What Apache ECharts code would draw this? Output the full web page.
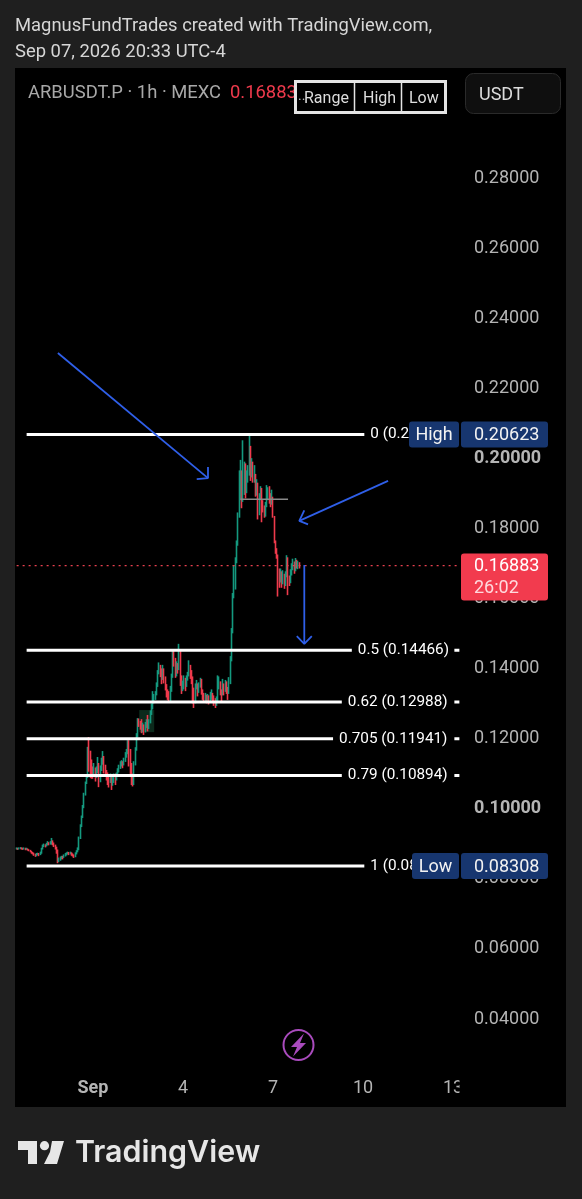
<!DOCTYPE html>
<html><head><meta charset="utf-8">
<style>html,body{margin:0;padding:0;background:#1f1f1f}#c{width:582px;height:1199px}</style>
<script src="https://cdn.jsdelivr.net/npm/echarts@6/dist/echarts.min.js"></script>
</head><body><div id="c"></div>
<script>
const closes = [
.0881,.0880,.0881,.0882,.0881,.0880,.0881,.0879,.0880,.0878,
.0876,.0873,.0870,.0868,.0864,.0861,.0864,.0866,.0863,.0868,
.0880,.0888,.0891,.0888,.0892,.0896,.0894,.0897,.0900,.0897,
.0892,.0885,.0875,.0845,.0848,.0852,.0856,.0855,.0860,.0864,
.0866,.0868,.0867,.0869,.0864,.0862,.0858,.0866,.0872,.0878,
.0910,.0945,.0970,.0998,.1035,.1068,.1085,.1150,.1130,.1115,
.1110,.1098,.1112,.1090,.1100,.1115,.1075,.1105,.1125,.1140,
.1120,.1100,.1095,.1080,.1070,.1085,.1065,.1075,.1085,.1080,
.1090,.1100,.1110,.1120,.1125,.1120,.1130,.1145,.1150,.1165,
.1160,.1120,.1090,.1065,.1120,.1160,.1200,.1245,.1240,.1232,
.1220,.1225,.1215,.1230,.1240,.1225,.1240,.1265,.1280,.1300,
.1310,.1320,.1345,.1380,.1400,.1385,.1365,.1395,.1370,.1350,
.1330,.1320,.1305,.1330,.1370,.1440,.1420,.1380,.1400,.1395,
.1440,.1370,.1335,.1350,.1365,.1345,.1365,.1375,.1400,.1385,
.1370,.1330,.1300,.1340,.1350,.1330,.1345,.1360,.1330,.1315,
.1310,.1315,.1305,.1310,.1300,.1315,.1320,.1310,.1300,.1295,
.1305,.1340,.1350,.1330,.1320,.1345,.1330,.1350,.1335,.1325,
.1360,.1420,.1500,.1600,.1680,.1700,.1750,.1830,.1900,.1930,
.1880,.1930,.1970,.1900,.1930,.1950,.1990,.1950,.1980,.1940,
.1940,.1900,.1920,.1835,.1880,.1905,.1870,.1850,.1830,.1860,
.1880,.1900,.1885,.1870,.1880,.1830,.1760,.1735,.1715,.1660,
.1645,.1665,.1640,.1660,.1635,.1660,.1710,.1650,.1640,.1665,
.1680,.1695,.1680,.1700,.1685,.1695,.16883];
const highs = [
.0884,.0883,.0884,.0885,.0884,.0883,.0884,.0883,.0883,.0881,
.0879,.0877,.0874,.0871,.0869,.0866,.0868,.0869,.0868,.0872,
.0883,.0892,.0895,.0893,.0897,.0902,.0899,.0902,.0911,.0904,
.0898,.0892,.0886,.0878,.0855,.0858,.0860,.0860,.0864,.0868,
.0870,.0872,.0871,.0872,.0870,.0867,.0864,.0870,.0876,.0884,
.0915,.0950,.0975,.1005,.1040,.1072,.1092,.1171,.1199,.1160,
.1135,.1115,.1125,.1110,.1115,.1142,.1125,.1118,.1140,.1159,
.1145,.1115,.1105,.1098,.1090,.1095,.1078,.1085,.1095,.1095,
.1098,.1110,.1120,.1130,.1133,.1130,.1140,.1156,.1165,.1190,
.1190,.1165,.1125,.1095,.1130,.1170,.1210,.1253,.1252,.1245,
.1250,.1240,.1235,.1242,.1250,.1262,.1250,.1275,.1295,.1330,
.1322,.1330,.1355,.1390,.1412,.1405,.1395,.1405,.1395,.1372,
.1345,.1335,.1330,.1345,.1380,.1447,.1445,.1425,.1415,.1410,
.1465,.1445,.1375,.1360,.1375,.1368,.1375,.1385,.1418,.1405,
.1390,.1372,.1340,.1352,.1362,.1352,.1355,.1368,.1365,.1335,
.1325,.1325,.1320,.1322,.1318,.1328,.1335,.1325,.1318,.1310,
.1315,.1375,.1372,.1358,.1335,.1365,.1352,.1362,.1358,.1342,
.1370,.1430,.1510,.1610,.1690,.1712,.1760,.1840,.1960,.1990,
.1960,.2046,.1985,.1980,.1960,.1975,.2062,.2030,.1995,.1985,
.1975,.1950,.1935,.1925,.1895,.1915,.1910,.1875,.1860,.1870,
.1918,.1912,.1915,.1895,.1905,.1885,.1830,.1745,.1738,.1720,
.1680,.1680,.1672,.1675,.1665,.1672,.1718,.1712,.1660,.1678,
.1695,.1708,.1700,.1710,.1705,.1702,.1698];
const lows = [
.0878,.0877,.0878,.0879,.0878,.0877,.0878,.0876,.0877,.0875,
.0873,.0870,.0866,.0864,.0860,.0857,.0859,.0862,.0859,.0862,
.0866,.0878,.0885,.0884,.0887,.0890,.0890,.0892,.0892,.0890,
.0885,.0878,.0866,.0839,.0842,.0846,.0850,.0850,.0854,.0858,
.0861,.0864,.0862,.0864,.0860,.0858,.0854,.0856,.0864,.0870,
.0876,.0908,.0942,.0968,.0996,.1032,.1065,.1082,.1100,.1082,
.1080,.1080,.1092,.1072,.1082,.1096,.1056,.1070,.1102,.1120,
.1095,.1085,.1075,.1062,.1055,.1068,.1048,.1060,.1068,.1062,
.1075,.1088,.1098,.1108,.1115,.1110,.1118,.1128,.1140,.1150,
.1115,.1085,.1062,.1058,.1062,.1118,.1160,.1198,.1228,.1220,
.1210,.1212,.1205,.1212,.1225,.1215,.1222,.1238,.1262,.1278,
.1295,.1305,.1318,.1342,.1378,.1370,.1350,.1362,.1352,.1332,
.1312,.1305,.1299,.1302,.1328,.1368,.1400,.1368,.1372,.1380,
.1390,.1345,.1322,.1330,.1335,.1330,.1342,.1360,.1372,.1365,
.1350,.1295,.1282,.1295,.1335,.1315,.1325,.1340,.1320,.1305,
.1298,.1302,.1295,.1300,.1292,.1298,.1305,.1298,.1288,.1282,
.1288,.1300,.1335,.1318,.1300,.1318,.1318,.1328,.1322,.1305,
.1322,.1350,.1415,.1495,.1595,.1620,.1695,.1745,.1825,.1875,
.1852,.1870,.1890,.1880,.1895,.1925,.1945,.1930,.1940,.1925,
.1925,.1885,.1888,.1820,.1832,.1875,.1812,.1840,.1825,.1828,
.1855,.1875,.1865,.1855,.1862,.1825,.1752,.1722,.1708,.1600,
.1625,.1640,.1625,.1635,.1622,.1630,.1655,.1604,.1630,.1638,
.1660,.1675,.1665,.1672,.1680,.1678,.1680];
const firstOpen = .0881;
const slotCount = 355;
const xTickLabels = {61:'Sep',133:'4',205:'7',277:'10',349:'13'};
const yBoldTicks = ['0.20000','0.10000'];
const yHiddenTicks = ['0.30000'];
const fibLevels = ['0','0.5','0.62','0.705','0.79','1'];
const fibPrices = [.20623,.14466,.12988,.11941,.10894,.08308];
const fibEnds = [278,268,260,253,260,278];
const fibStart = 8;
const lastPrice = .16883;
const countdown = '26:02';
const highPrice = .20623, lowPrice = .08308;
const arrow1 = [[33,.2295],[153,.1938]], arrow1Head = [[153,.1970],[153,.1938],[144,.1935]];
const arrow2 = [[297,.1930],[226,.1816]], arrow2Head = [[230,.1846],[226,.1816],[233,.1806]];
const arrow3 = [[230,.1690],[230,.1465]], arrow3Head = [[224,.1487],[230,.1465],[236,.1487]];
const greyLine = [[179,.1878],[217,.1878]];

const BLUE='#2f5fe8', GREEN='#14997f', RED='#ee3a4c', NAVY='#17366f', TAG='#f23b4e';
const cats = Array.from({length:slotCount},(_,i)=>String(i));
const ohlc = closes.map((c,i)=>{const o=i?closes[i-1]:firstOpen;return [o,c,Math.min(lows[i],o,c),Math.max(highs[i],o,c)];});
const draw=(data,color,width,z,extra)=>Object.assign({type:'line',data,symbol:'none',silent:true,z:z||5,lineStyle:{color,width:width||1.5,cap:'butt'}},extra||{});

const tag=(text1,fill,x,w,h)=>(p,api)=>{
  const y=api.coord([0,api.value(1)])[1];
  const isVal=text1===null;
  return {type:'group',children:[
    {type:'rect',shape:{x,y:y-h/2,width:w,height:h,r:[3,3,3,3]},style:{fill}},
    {type:'text',style:{x:isVal?474:x+w/2,y:y+1,text:isVal?api.value(1).toFixed(5):text1,fill:'#f2f2f2',font:'18px Roboto',align:isVal?'left':'center',verticalAlign:'middle'}}
  ]};
};
const fixedX=461, tagW=87;
const series=[
 {type:'candlestick',data:ohlc,barWidth:1,z:3,silent:true,
  itemStyle:{color:GREEN,color0:RED,borderColor:GREEN,borderColor0:RED,borderWidth:1.6},
  markArea:{silent:true,itemStyle:{color:'#0c2a1c'},z:1,data:[[{xAxis:98,yAxis:.1276},{xAxis:110,yAxis:.1213}]]}}
];
fibLevels.forEach((lv,k)=>{
  series.push(draw([[fibStart,fibPrices[k]],[fibEnds[k],fibPrices[k]]],'#ffffff',3,6,{
    endLabel:{show:true,distance:6,color:'#ffffff',fontFamily:'Roboto',fontSize:15.3,formatter:()=>lv+' ('+fibPrices[k].toFixed(5)+')'}}));
  if(k>0&&k<5) series.push(draw([[350,fibPrices[k]],[354,fibPrices[k]]],'#ffffff',3,6));
});
series.push(draw(cats.map((c,i)=>[i,lastPrice]),RED,1,4,{lineStyle:{color:'#e8404f',width:1.2,type:[2,4]}}));
series.push(draw(greyLine,'#8a8a8a',1.5,7));
[arrow1,arrow1Head,arrow2,arrow2Head,arrow3,arrow3Head].forEach(a=>series.push(draw(a,BLUE,1.8,8)));
series.push({type:'custom',z:20,silent:true,data:[[0,highPrice]],renderItem:tag(null,NAVY,fixedX,tagW,26)});
series.push({type:'custom',z:20,silent:true,data:[[0,lowPrice]],renderItem:tag(null,NAVY,fixedX,tagW,26)});
series.push({type:'custom',z:20,silent:true,data:[[0,highPrice]],renderItem:tag('High',NAVY,409,50,26)});
series.push({type:'custom',z:20,silent:true,data:[[0,lowPrice]],renderItem:tag('Low',NAVY,412,47,26)});
series.push({type:'custom',z:20,silent:true,data:[[0,lastPrice]],renderItem:(p,api)=>{
  const y=api.coord([0,api.value(1)])[1];
  return {type:'group',children:[
    {type:'rect',shape:{x:fixedX,y:y-12,width:tagW,height:47,r:[3,3,3,3]},style:{fill:TAG}},
    {type:'text',style:{x:474,y:y+1,text:api.value(1).toFixed(5),fill:'#fff',font:'18px Roboto',verticalAlign:'middle'}},
    {type:'text',style:{x:474,y:y+23,text:countdown,fill:'#ffd9dd',font:'18px Roboto',verticalAlign:'middle'}}
  ]};
}});

const txt=(x,y,text,fill,font,extra)=>Object.assign({type:'text',x,y,z:30,style:{text,fill,font:font||'18px Roboto',verticalAlign:'middle'}},extra||{});
const graphic=[
 {type:'rect',z:-10,shape:{x:15,y:68,width:551,height:1039},style:{fill:'#000'}},
 txt(15,26,'MagnusFundTrades created with TradingView.com,','#d6d6d6','18.4px Roboto'),
 txt(15,52,'Sep 07, 2026 20:33 UTC-4','#d6d6d6','18.4px Roboto'),
 txt(28,93,'ARBUSDT.P · 1h · MEXC','#a8a8a8','18.4px Roboto'),
 txt(230,93,'0.16883',RED,'18.4px Roboto'),
 {type:'rect',z:31,shape:{x:295.5,y:81.5,width:150,height:31},style:{fill:'#000',stroke:'#e4e4e4',lineWidth:3}},
 {type:'line',z:32,shape:{x1:354.5,y1:82,x2:354.5,y2:112},style:{stroke:'#e4e4e4',lineWidth:1.5}},
 {type:'line',z:32,shape:{x1:401.5,y1:82,x2:401.5,y2:112},style:{stroke:'#e4e4e4',lineWidth:1.5}},
 txt(298,96,'..','#bbbbbb','14px Roboto',{z:33}),
 txt(304,99,'Range','#dddddd','16px Roboto',{z:33}),
 txt(363,99,'High','#dddddd','16px Roboto',{z:33}),
 txt(409,99,'Low','#dddddd','16px Roboto',{z:33}),
 {type:'rect',z:30,shape:{x:465.5,y:73.5,width:95,height:40,r:8},style:{fill:'#0f0f0f',stroke:'#2a2a2a',lineWidth:1}},
 txt(479,95,'USDT','#dddddd','18px Roboto',{z:31}),
 {type:'circle',z:30,shape:{cx:298.5,cy:1045,r:15},style:{fill:'none',stroke:'#a94bbd',lineWidth:2}},
 {type:'polygon',z:30,shape:{points:[[304,1033.5],[291,1047],[297,1047],[293,1056.5],[306,1043],[300,1043]]},style:{fill:'#a94bbd'}},
 {type:'rect',z:30,shape:{x:459.5,y:1072,width:12,height:30},style:{fill:'#000'}},
 {type:'polygon',z:30,shape:{points:[[18,1141],[37,1141],[37,1164],[28,1164],[28,1150],[18,1150]]},style:{fill:'#e6e6e6'}},
 {type:'circle',z:30,shape:{cx:44.5,cy:1145.7,r:4.6},style:{fill:'#e6e6e6'}},
 {type:'polygon',z:30,shape:{points:[[52,1141],[64,1141],[57,1164],[44,1164],[50,1152]]},style:{fill:'#e6e6e6'}},
 txt(75,1153,'TradingView','#e6e6e6','600 30.4px Inter')
];

const chart=echarts.init(document.getElementById('c'),null,{renderer:'canvas',width:582,height:1199});
chart.setOption({
 backgroundColor:'#1f1f1f',animation:false,
 grid:{left:16,width:444,top:106,height:911,containLabel:false},
 xAxis:{type:'category',data:cats,boundaryGap:true,axisLine:{show:false},axisTick:{show:false},splitLine:{show:false},
   axisLabel:{margin:62,color:'#b4b4b4',fontFamily:'Roboto',fontSize:18,hideOverlap:false,
     interval:(i)=>xTickLabels[i]!==undefined,
     formatter:(v,i)=>{const t=xTickLabels[i];return t==='Sep'?'{b|Sep}':t;},
     rich:{b:{fontFamily:'Roboto',fontSize:18,fontWeight:'bold',color:'#b4b4b4'}}}},
 yAxis:{type:'value',position:'right',min:.04,max:.30,interval:.02,scale:false,
   axisLine:{show:false},axisTick:{show:false},splitLine:{show:false},
   axisLabel:{margin:14,padding:[4,0,0,0],color:'#b4b4b4',fontFamily:'Roboto',fontSize:18,showMinLabel:true,showMaxLabel:true,
     formatter:(v)=>{const t=v.toFixed(5);if(yHiddenTicks.includes(t))return '';return yBoldTicks.includes(t)?'{b|'+t+'}':t;},
     rich:{b:{fontFamily:'Roboto',fontSize:18,fontWeight:'bold',color:'#b4b4b4'}}}},
 series,graphic
});
</script></body></html>
